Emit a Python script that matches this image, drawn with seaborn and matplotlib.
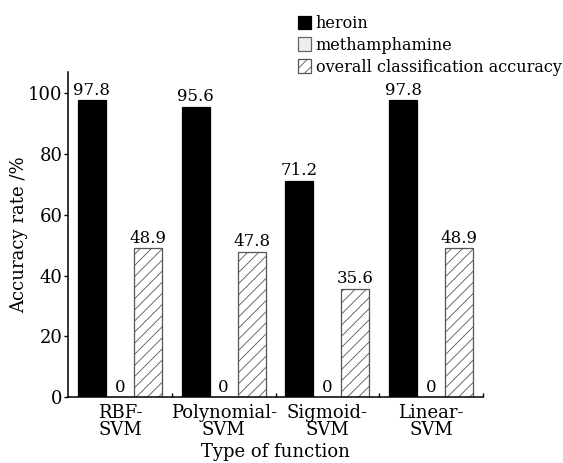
import matplotlib
matplotlib.use("Agg")
import matplotlib.pyplot as plt
import seaborn as sns
import pandas as pd
from matplotlib.patches import Patch

functions = ["RBF-\nSVM", "Polynomial-\nSVM", "Sigmoid-\nSVM", "Linear-\nSVM"]
series = ["heroin", "methamphamine", "overall classification accuracy"]
heroin = [97.8, 95.6, 71.2, 97.8]
methamphamine = [0, 0, 0, 0]
overall = [48.9, 47.8, 35.6, 48.9]

sns.set_theme(style="ticks")
plt.rcParams["font.family"] = ["DejaVu Serif"]
plt.rcParams["hatch.linewidth"] = 0.6
plt.rcParams["text.color"] = "black"
plt.rcParams["axes.labelcolor"] = "black"
plt.rcParams["xtick.color"] = "black"
plt.rcParams["ytick.color"] = "black"

rows = []
for name, vals in zip(series, [heroin, methamphamine, overall]):
    for f, v in zip(functions, vals):
        rows.append({"func": f, "series": name, "value": v})
df = pd.DataFrame(rows)

facecolors = {"heroin": "#000000", "methamphamine": "#eeeeee",
              "overall classification accuracy": "#ffffff"}
edgecolors = {"heroin": "#000000", "methamphamine": "#666666",
              "overall classification accuracy": "#555555"}
hatches = {"heroin": "", "methamphamine": "", "overall classification accuracy": "///"}

fig = plt.figure(figsize=(5.63, 4.63), dpi=100)
ax = fig.add_axes([68 / 563, 1 - 397 / 463, (483 - 68) / 563, (397 - 72) / 463])

sns.barplot(data=df, x="func", y="value", hue="series", order=functions,
            hue_order=series, palette=facecolors, width=0.81, ax=ax,
            legend=False, saturation=1, errorbar=None)

for name, cont in zip(series, ax.containers):
    for p in cont:
        p.set_facecolor(facecolors[name])
        p.set_edgecolor(edgecolors[name])
        p.set_hatch(hatches[name])
        p.set_linewidth(0.9)
    labels = [("%g" % v) for v in cont.datavalues]
    ax.bar_label(cont, labels=labels, padding=1, fontsize=12, color="black")

ax.set_xlim(-0.5, 3.5)
ax.set_ylim(0, 107)
ax.set_yticks([0, 20, 40, 60, 80, 100])
ax.set_xticks(range(len(functions)))
ax.set_xticklabels(functions, fontsize=13, linespacing=0.95)
ax.set_xticks([0.5, 1.5, 2.5, 3.5], minor=True)
ax.tick_params(axis="x", which="major", length=0, pad=5)
ax.tick_params(axis="x", which="minor", length=3, direction="in", width=1)
ax.tick_params(axis="y", length=3, width=1, pad=1, labelsize=13, direction="out")
ax.set_xlabel("Type of function", fontsize=13, labelpad=3)
ax.set_ylabel("Accuracy rate /%", fontsize=13, labelpad=0)
for s in ["top", "right"]:
    ax.spines[s].set_visible(False)
for s in ["left", "bottom"]:
    ax.spines[s].set_linewidth(1.1)
    ax.spines[s].set_color("black")

handles = [Patch(facecolor=facecolors[s], edgecolor=edgecolors[s], hatch=hatches[s], linewidth=0.9)
           for s in series]
fig.legend(handles, series, loc="upper left", bbox_to_anchor=(298 / 563, 1 - 15 / 463),
           frameon=False, fontsize=11.5, handlelength=0.8, handleheight=0.95,
           handletextpad=0.3, labelspacing=0.3, borderpad=0, borderaxespad=0)

fig.savefig("out.png", dpi=100)
